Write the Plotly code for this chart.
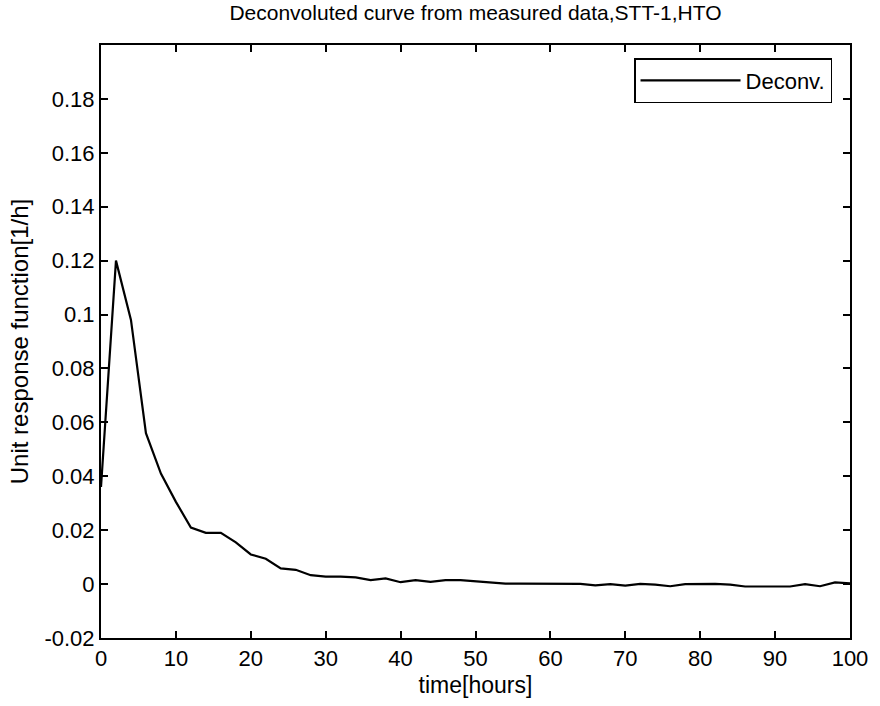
import plotly.graph_objects as go

# time in hours (sampled every 2 h)
time_hours = list(range(0, 101, 2))
deconv = [
    0.036, 0.120, 0.098, 0.056, 0.041, 0.0305, 0.021, 0.019, 0.019, 0.0155,
    0.011, 0.0094, 0.0058, 0.0053, 0.0033, 0.0028, 0.0028, 0.0025, 0.0015, 0.0021,
    0.0007, 0.0015, 0.0008, 0.0015, 0.0015, 0.0011, 0.0007, 0.0002, 0.0002, 0.0002,
    0.0002, 0.0002, 0.0001, -0.0005, 0.0000, -0.0006, 0.0001, -0.0002, -0.0008, 0.0000,
    0.0001, 0.0001, -0.0002, -0.0009, -0.0009, -0.0009, -0.0009, 0.0000, -0.0008, 0.0006,
    0.0003,
]

x_ticks = list(range(0, 101, 10))
y_tickvals = [-0.02, 0, 0.02, 0.04, 0.06, 0.08, 0.1, 0.12, 0.14, 0.16, 0.18]
y_ticktext = ["-0.02", "0", "0.02", "0.04", "0.06", "0.08", "0.1", "0.12", "0.14", "0.16", "0.18"]

FONT = "Arial, Liberation Sans, sans-serif"

fig = go.Figure()
fig.add_trace(go.Scatter(
    x=time_hours, y=deconv, mode="lines", name="Deconv.",
    line=dict(color="black", width=2.2),
))

axis_common = dict(
    showline=True, linecolor="black", linewidth=2, mirror="ticks",
    ticks="inside", ticklen=7, tickwidth=1.5, tickcolor="black",
    showgrid=False, zeroline=False,
    tickfont=dict(family=FONT, size=22, color="black"),
)

fig.update_layout(
    width=880, height=706,
    margin=dict(l=101, r=21, t=45, b=64),
    paper_bgcolor="white", plot_bgcolor="white",
    title=dict(text="Deconvoluted curve from measured data,STT-1,HTO",
               xref="paper", x=0.5, xanchor="center",
               y=1 - 13 / 706, yanchor="middle",
               font=dict(family=FONT, size=21, color="black")),
    xaxis=dict(range=[0, 100], tickvals=x_ticks,
               title=dict(text="time[hours]", standoff=6,
                          font=dict(family=FONT, size=23, color="black")),
               **axis_common),
    yaxis=dict(range=[-0.02, 0.2], tickvals=y_tickvals, ticktext=y_ticktext,
               title=dict(text="Unit response function[1/h]", standoff=9,
                          font=dict(family=FONT, size=24, color="black")),
               **axis_common),
    legend=dict(x=0.976, xanchor="right", y=0.978, yanchor="top",
                bgcolor="white", bordercolor="black", borderwidth=1.5,
                font=dict(family=FONT, size=22, color="black"),
                itemwidth=100),
    showlegend=True,
)

fig.write_html("out.html")
